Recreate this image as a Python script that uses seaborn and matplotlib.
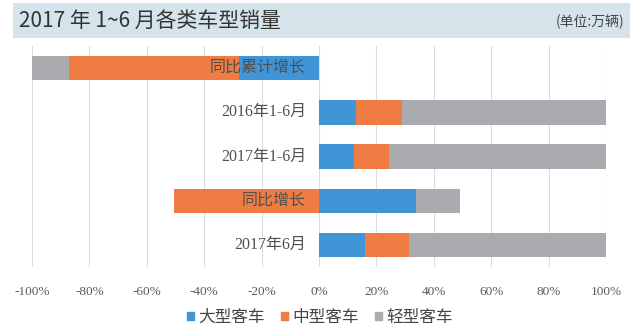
import matplotlib
matplotlib.use("Agg")
import matplotlib.pyplot as plt
import matplotlib.patches as mpatches
import seaborn as sns
import pandas as pd
import numpy as np

categories = ['同比累计增长', '2016年1-6月', '2017年1-6月', '同比增长', '2017年6月']
series_names = ['大型客车', '中型客车', '轻型客车']
large = [-28.0, 13.0, 12.3, 33.7, 16.0]
medium = [-59.0, 15.8, 11.9, -50.5, 15.5]
light = [-13.0, 71.2, 75.8, 15.5, 68.5]
xticks = [-100, -80, -60, -40, -20, 0, 20, 40, 60, 80, 100]
xtick_labels = [f"{v}%" for v in xticks]

colors = {'大型客车': '#3f95d5', '中型客车': '#ef7c42', '轻型客车': '#a9abae'}

sns.set_style("white")
plt.rcParams['font.family'] = ['Noto Sans CJK SC', 'DejaVu Sans']
SERIF = ['Liberation Serif', 'Noto Sans CJK SC']

# cumulative segment ends, stacked separately for positive and negative parts
vals = np.array([large, medium, light])
ends = np.zeros_like(vals)
for j in range(vals.shape[1]):
    pos = 0.0
    neg = 0.0
    for i in range(vals.shape[0]):
        v = vals[i, j]
        if v >= 0:
            pos += v
            ends[i, j] = pos
        else:
            neg += v
            ends[i, j] = neg

fig = plt.figure(figsize=(6.4, 3.34), dpi=100)
ax = fig.add_axes([0.05, 0.2006, 0.897, 0.6614])

# draw from outermost segment inward so inner segments sit on top
for i in reversed(range(len(series_names))):
    df = pd.DataFrame({'cat': categories, 'end': ends[i]})
    sns.barplot(data=df, x='end', y='cat', order=categories, orient='h',
                color=colors[series_names[i]], saturation=1, width=0.55,
                ax=ax, zorder=2, linewidth=0)

ax.set_xlim(-100, 100)
ax.set_ylim(len(categories) - 0.5, -0.5)
ax.set_xticks(xticks)
ax.set_xticklabels(xtick_labels, family=SERIF, fontsize=9.5, color='#595959')
ax.set_yticks([])
ax.set_xlabel('')
ax.set_ylabel('')
ax.tick_params(axis='x', length=0, pad=14)
ax.grid(axis='x', color='#dcdcdc', linewidth=0.8, zorder=0)
ax.set_axisbelow(True)
for s in ax.spines.values():
    s.set_visible(False)

for k, c in enumerate(categories):
    ax.text(-4.5, k, c, ha='right', va='center', fontsize=11.5,
            family=SERIF, color='#505050', zorder=5)

# title band
band = mpatches.Rectangle((0.02, 0.885), 0.965, 0.105, transform=fig.transFigure,
                          facecolor='#d5e3ea', edgecolor='none', zorder=0)
fig.patches.append(band)
fig.text(0.03, 0.938, '2017 年 1~6 月各类车型销量', fontsize=15, color='#333333',
         ha='left', va='center')
fig.text(0.975, 0.935, '(单位:万辆)', fontsize=10, color='#444444',
         ha='right', va='center')

handles = [mpatches.Patch(color=colors[n], label=n) for n in series_names]
fig.legend(handles=handles, loc='center', bbox_to_anchor=(0.5, 0.05), ncol=3,
           frameon=False, fontsize=12, handlelength=0.4, handleheight=0.4,
           handletextpad=0.25, columnspacing=1.0, labelcolor='#444444')

fig.savefig('out.png', dpi=100)
